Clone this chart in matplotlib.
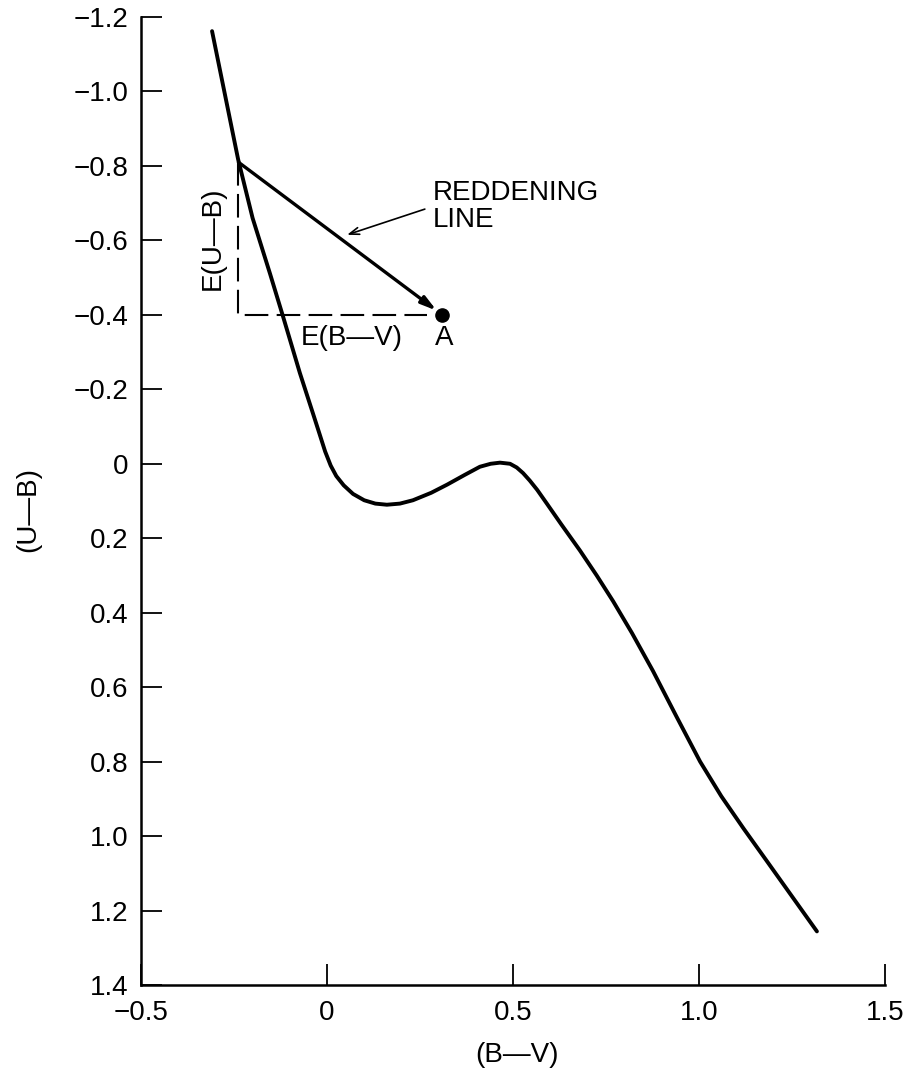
import numpy as np
import matplotlib
matplotlib.use('Agg')
import matplotlib.pyplot as plt

plt.rcParams['font.family'] = ['Liberation Sans', 'DejaVu Sans']
plt.rcParams['lines.scale_dashes'] = False

# intrinsic two-colour curve
bv = [-0.309, -0.274, -0.239, -0.200, -0.153, -0.118, -0.073, -0.038, -0.020,
      -0.005, 0.010, 0.025, 0.045, 0.070, 0.100, 0.130, 0.161, 0.196, 0.231,
      0.280, 0.323, 0.370, 0.411, 0.440, 0.465, 0.492, 0.510, 0.527, 0.545,
      0.565, 0.591, 0.630, 0.680, 0.725, 0.769, 0.820, 0.876, 0.940, 1.003,
      1.060, 1.120, 1.183, 1.250, 1.317]
ub = [-1.162, -0.990, -0.818, -0.660, -0.510, -0.395, -0.244, -0.136, -0.080,
      -0.033, 0.005, 0.033, 0.058, 0.081, 0.098, 0.107, 0.110, 0.107, 0.098,
      0.078, 0.056, 0.030, 0.008, 0.000, -0.003, 0.000, 0.010, 0.025, 0.045,
      0.070, 0.107, 0.163, 0.233, 0.300, 0.369, 0.455, 0.556, 0.680, 0.800,
      0.893, 0.980, 1.068, 1.162, 1.256]

# star A and where its reddening line meets the intrinsic curve
star_a = (0.31, -0.40)
intrinsic = (-0.238, -0.81)

xticks = [-0.5, 0, 0.5, 1.0, 1.5]
xticklabels = ['\u22120.5', '0', '0.5', '1.0', '1.5']
yticks = [-1.2, -1.0, -0.8, -0.6, -0.4, -0.2, 0, 0.2, 0.4, 0.6, 0.8, 1.0, 1.2, 1.4]
yticklabels = ['\u22121.2', '\u22121.0', '\u22120.8', '\u22120.6', '\u22120.4', '\u22120.2',
               '0', '0.2', '0.4', '0.6', '0.8', '1.0', '1.2', '1.4']

fig = plt.figure(figsize=(9.11, 10.68), dpi=100)
ax = fig.add_axes([141/911, 1-985/1068, 744/911, 968/1068])

ax.plot(bv, ub, color='black', lw=2.8, solid_capstyle='round',
        solid_joinstyle='round')

# excess components (dashed)
ax.plot([intrinsic[0], intrinsic[0], star_a[0] - 0.04],
        [intrinsic[1], star_a[1], star_a[1]],
        color='black', lw=1.5, ls=(0, (17, 6)))

# reddening vector
ax.annotate('', xy=star_a, xytext=intrinsic,
            arrowprops=dict(arrowstyle='-|>,head_length=0.9,head_width=0.25',
                            color='black', lw=2.4, shrinkA=0, shrinkB=5))
ax.plot(*star_a, 'o', color='black', ms=9.5)

fs = 20
ax.text(0.285, -0.69, 'REDDENING\nLINE', fontsize=fs, ha='left', va='center',
        linespacing=1.05)
ax.annotate('', xy=(0.054, -0.615), xytext=(0.263, -0.684),
            arrowprops=dict(arrowstyle='->,head_length=0.7,head_width=0.25',
                            color='black', lw=1.2, shrinkA=0, shrinkB=0))
ax.text(-0.306, -0.607, 'E(U\u2014B)', fontsize=fs, rotation=90,
        ha='center', va='center')
ax.text(0.067, -0.338, 'E(B\u2014V)', fontsize=fs, ha='center', va='center')
ax.text(0.315, -0.338, 'A', fontsize=fs, ha='center', va='center')

ax.set_xlim(-0.5, 1.5)
ax.set_ylim(1.4, -1.2)
ax.set_xticks(xticks)
ax.set_xticklabels(xticklabels)
ax.set_yticks(yticks)
ax.set_yticklabels(yticklabels)

for s in ['top', 'right']:
    ax.spines[s].set_visible(False)
for s in ['left', 'bottom']:
    ax.spines[s].set_linewidth(1.8)

ax.tick_params(axis='both', direction='in', length=15, width=1.3,
               labelsize=fs)
ax.tick_params(axis='y', pad=9)
ax.tick_params(axis='x', pad=11)

ax.set_xlabel('(B\u2014V)', fontsize=fs, va='center')
ax.xaxis.set_label_coords((517-141)/744, (985-1055)/968)
ax.set_ylabel('(U\u2014B)', fontsize=fs, va='center')
ax.yaxis.set_label_coords((28-141)/744, (985-510)/968)

fig.savefig('out.png', dpi=100, facecolor='white')
